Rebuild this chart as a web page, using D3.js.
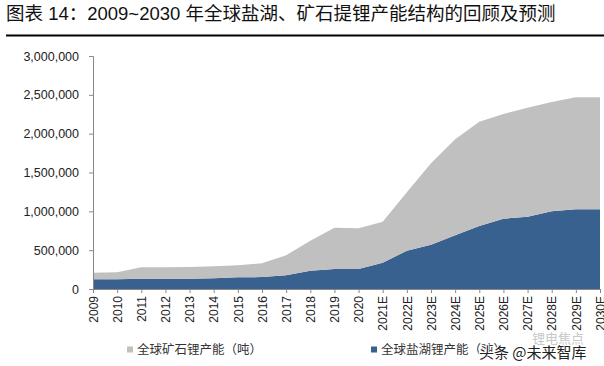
<!DOCTYPE html>
<html lang="zh">

<head>
    <meta charset="UTF-8">
    <title>全球盐湖、矿石提锂产能结构</title>
    <style>
        body {
            margin: 0;
            padding: 0;
            background: #fff;
            font-family: "Liberation Sans", Arial, "Noto Sans CJK SC", sans-serif;
        }

        .axis text {
            font-size: 12px;
            fill: #222;
        }

        .axis path,
        .axis line {
            stroke: #888;
        }
    </style>
</head>

<body>
    <div id="chart"></div>
    <script src="https://cdn.jsdelivr.net/npm/d3@7"></script>
    <script>
        // data (tonnes)
        const years = ["2009", "2010", "2011", "2012", "2013", "2014", "2015", "2016", "2017", "2018", "2019", "2020",
            "2021E", "2022E", "2023E", "2024E", "2025E", "2026E", "2027E", "2028E", "2029E", "2030E"];
        const brine = [125000, 125000, 133000, 133000, 133000, 138000, 150000, 153000, 176000, 236000, 258000, 258000,
            339000, 493000, 570000, 691000, 811000, 905000, 931000, 1000000, 1026000, 1026000];
        const ore = [85000, 90000, 147000, 147000, 150000, 154000, 155000, 178000, 258000, 386000, 532000, 525000,
            528000, 752000, 1048000, 1236000, 1343000, 1348000, 1403000, 1408000, 1442000, 1442000];
        const yTicks = [0, 500000, 1000000, 1500000, 2000000, 2500000, 3000000];
        const seriesNames = ["全球矿石锂产能（吨）", "全球盐湖锂产能（吨）"];

        const W = 604, H = 366;
        const margin = { top: 56, right: 4, bottom: 77, left: 93 };
        const width = W - margin.left - margin.right;
        const height = H - margin.top - margin.bottom;

        const svg = d3.select("#chart").append("svg")
            .attr("width", W)
            .attr("height", H);

        svg.append("text")
            .attr("x", 6)
            .attr("y", 20)
            .style("font-size", "18.5px")
            .style("font-family", "'Liberation Sans', 'Noto Sans CJK SC', sans-serif")
            .attr("fill", "#111")
            .text("图表 14：2009~2030 年全球盐湖、矿石提锂产能结构的回顾及预测");

        svg.append("line")
            .attr("x1", 6).attr("x2", W)
            .attr("y1", 35.5).attr("y2", 35.5)
            .attr("stroke", "#000")
            .attr("stroke-width", 2);

        const g = svg.append("g")
            .attr("transform", "translate(" + margin.left + "," + margin.top + ")");

        const x = d3.scalePoint()
            .domain(years)
            .range([0, width]);

        const y = d3.scaleLinear()
            .domain([0, 3000000])
            .range([height, 0]);

        const rows = years.map((yr, i) => ({ year: yr, brine: brine[i], ore: ore[i] }));
        const stack = d3.stack().keys(["brine", "ore"]);
        const layers = stack(rows);
        const colors = { brine: "#38618f", ore: "#c0c0c0" };

        const area = d3.area()
            .x(d => x(d.data.year))
            .y0(d => y(d[0]))
            .y1(d => y(d[1]));

        g.selectAll(".layer")
            .data(layers)
            .enter().append("path")
            .attr("class", "layer")
            .attr("d", area)
            .attr("fill", d => colors[d.key]);

        g.append("g")
            .attr("class", "axis")
            .call(d3.axisLeft(y).tickValues(yTicks).tickFormat(d3.format(",")).tickSizeOuter(0).tickSize(4).tickPadding(10))
            .selectAll("text")
            .style("font-size", "12.5px");

        g.append("g")
            .attr("class", "axis")
            .attr("transform", "translate(0," + height + ")")
            .call(d3.axisBottom(x).tickSizeOuter(0).tickSize(4))
            .selectAll("text")
            .attr("transform", "rotate(-90)")
            .attr("x", -7)
            .attr("y", 0)
            .attr("dy", "0.35em")
            .style("text-anchor", "end");

        // legend
        const legend = [
            { name: seriesNames[0], color: colors.ore, x: 127 },
            { name: seriesNames[1], color: colors.brine, x: 371 }
        ];
        const lg = svg.selectAll(".legend")
            .data(legend)
            .enter().append("g")
            .attr("class", "legend")
            .attr("transform", d => "translate(" + d.x + ",350)");
        lg.append("rect")
            .attr("x", 0).attr("y", -3.5)
            .attr("width", 6).attr("height", 6)
            .attr("fill", d => d.color);
        lg.append("text")
            .attr("x", 10)
            .attr("dy", "0.35em")
            .style("font-size", "12.5px")
            .style("font-family", "'Noto Sans CJK SC', sans-serif")
            .attr("fill", "#333")
            .text(d => d.name);

        // watermark
        svg.append("text")
            .attr("x", 532).attr("y", 343)
            .style("font-size", "13px")
            .style("font-family", "'Noto Sans CJK SC', sans-serif")
            .attr("fill", "#bbb")
            .attr("opacity", 0.8)
            .text("锂电焦点");
        svg.append("text")
            .attr("x", 479).attr("y", 358)
            .style("font-size", "15px")
            .style("font-family", "'Noto Sans CJK SC', sans-serif")
            .attr("fill", "#222")
            .attr("stroke", "#fff")
            .attr("stroke-width", 2)
            .attr("paint-order", "stroke")
            .text("头条 @未来智库");
    </script>
</body>

</html>
